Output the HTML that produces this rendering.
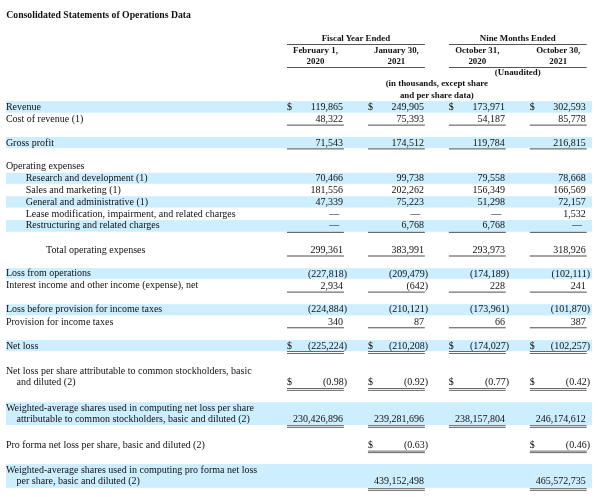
<!DOCTYPE html>
<html><head><meta charset="utf-8"><title>Consolidated Statements of Operations Data</title>
<style>
html,body{margin:0;padding:0;background:#fff}
#p{position:relative;width:600px;height:497px;overflow:hidden;background:#fff;font-family:"Liberation Serif","Times New Roman",serif;color:#111}
#p svg{position:absolute;left:0;top:0}
.t{position:absolute;white-space:nowrap;line-height:1em}
</style></head><body><div id="p">
<svg width="600" height="497" viewBox="0 0 600 497">
<rect x="287.00" y="44.10" width="137.83" height="0.8" fill="#2a2a2a"/>
<rect x="448.86" y="44.10" width="137.83" height="0.8" fill="#2a2a2a"/>
<rect x="287.00" y="67.20" width="137.83" height="0.8" fill="#2a2a2a"/>
<rect x="448.86" y="67.20" width="137.83" height="0.8" fill="#2a2a2a"/>
<rect x="6" y="101.10" width="586" height="11.60" fill="#cceeff"/>
<rect x="287.00" y="124.65" width="56.90" height="0.9" fill="#3a3a3a"/>
<rect x="367.93" y="124.65" width="56.90" height="0.9" fill="#3a3a3a"/>
<rect x="448.86" y="124.65" width="56.90" height="0.9" fill="#3a3a3a"/>
<rect x="529.79" y="124.65" width="56.90" height="0.9" fill="#3a3a3a"/>
<rect x="6" y="137.00" width="586" height="11.10" fill="#cceeff"/>
<rect x="287.00" y="148.45" width="56.90" height="0.9" fill="#3a3a3a"/>
<rect x="367.93" y="148.45" width="56.90" height="0.9" fill="#3a3a3a"/>
<rect x="448.86" y="148.45" width="56.90" height="0.9" fill="#3a3a3a"/>
<rect x="529.79" y="148.45" width="56.90" height="0.9" fill="#3a3a3a"/>
<rect x="6" y="172.80" width="586" height="11.00" fill="#cceeff"/>
<rect x="6" y="196.30" width="586" height="11.30" fill="#cceeff"/>
<rect x="6" y="220.10" width="586" height="11.60" fill="#cceeff"/>
<rect x="287.00" y="231.85" width="56.90" height="0.9" fill="#3a3a3a"/>
<rect x="367.93" y="231.85" width="56.90" height="0.9" fill="#3a3a3a"/>
<rect x="448.86" y="231.85" width="56.90" height="0.9" fill="#3a3a3a"/>
<rect x="529.79" y="231.85" width="56.90" height="0.9" fill="#3a3a3a"/>
<rect x="287.00" y="255.55" width="56.90" height="0.9" fill="#3a3a3a"/>
<rect x="367.93" y="255.55" width="56.90" height="0.9" fill="#3a3a3a"/>
<rect x="448.86" y="255.55" width="56.90" height="0.9" fill="#3a3a3a"/>
<rect x="529.79" y="255.55" width="56.90" height="0.9" fill="#3a3a3a"/>
<rect x="6" y="268.20" width="586" height="10.60" fill="#cceeff"/>
<rect x="287.00" y="291.65" width="56.90" height="0.9" fill="#3a3a3a"/>
<rect x="367.93" y="291.65" width="56.90" height="0.9" fill="#3a3a3a"/>
<rect x="448.86" y="291.65" width="56.90" height="0.9" fill="#3a3a3a"/>
<rect x="529.79" y="291.65" width="56.90" height="0.9" fill="#3a3a3a"/>
<rect x="6" y="304.20" width="586" height="11.20" fill="#cceeff"/>
<rect x="287.00" y="327.35" width="56.90" height="0.9" fill="#3a3a3a"/>
<rect x="367.93" y="327.35" width="56.90" height="0.9" fill="#3a3a3a"/>
<rect x="448.86" y="327.35" width="56.90" height="0.9" fill="#3a3a3a"/>
<rect x="529.79" y="327.35" width="56.90" height="0.9" fill="#3a3a3a"/>
<rect x="6" y="340.10" width="586" height="11.10" fill="#cceeff"/>
<rect x="287.00" y="351.10" width="56.90" height="0.8" fill="#444"/>
<rect x="287.00" y="353.00" width="56.90" height="0.8" fill="#444"/>
<rect x="367.93" y="351.10" width="56.90" height="0.8" fill="#444"/>
<rect x="367.93" y="353.00" width="56.90" height="0.8" fill="#444"/>
<rect x="448.86" y="351.10" width="56.90" height="0.8" fill="#444"/>
<rect x="448.86" y="353.00" width="56.90" height="0.8" fill="#444"/>
<rect x="529.79" y="351.10" width="56.90" height="0.8" fill="#444"/>
<rect x="529.79" y="353.00" width="56.90" height="0.8" fill="#444"/>
<rect x="287.00" y="388.00" width="56.90" height="0.8" fill="#444"/>
<rect x="287.00" y="389.90" width="56.90" height="0.8" fill="#444"/>
<rect x="367.93" y="388.00" width="56.90" height="0.8" fill="#444"/>
<rect x="367.93" y="389.90" width="56.90" height="0.8" fill="#444"/>
<rect x="448.86" y="388.00" width="56.90" height="0.8" fill="#444"/>
<rect x="448.86" y="389.90" width="56.90" height="0.8" fill="#444"/>
<rect x="529.79" y="388.00" width="56.90" height="0.8" fill="#444"/>
<rect x="529.79" y="389.90" width="56.90" height="0.8" fill="#444"/>
<rect x="6" y="402.20" width="586" height="22.80" fill="#cceeff"/>
<rect x="287.00" y="425.30" width="56.90" height="0.8" fill="#444"/>
<rect x="287.00" y="426.90" width="56.90" height="0.8" fill="#444"/>
<rect x="367.93" y="425.30" width="56.90" height="0.8" fill="#444"/>
<rect x="367.93" y="426.90" width="56.90" height="0.8" fill="#444"/>
<rect x="448.86" y="425.30" width="56.90" height="0.8" fill="#444"/>
<rect x="448.86" y="426.90" width="56.90" height="0.8" fill="#444"/>
<rect x="529.79" y="425.30" width="56.90" height="0.8" fill="#444"/>
<rect x="529.79" y="426.90" width="56.90" height="0.8" fill="#444"/>
<rect x="367.93" y="450.70" width="56.90" height="0.8" fill="#444"/>
<rect x="367.93" y="452.30" width="56.90" height="0.8" fill="#444"/>
<rect x="529.79" y="450.70" width="56.90" height="0.8" fill="#444"/>
<rect x="529.79" y="452.30" width="56.90" height="0.8" fill="#444"/>
<rect x="6" y="464.10" width="586" height="23.70" fill="#cceeff"/>
<rect x="367.93" y="488.30" width="56.90" height="0.8" fill="#444"/>
<rect x="367.93" y="489.90" width="56.90" height="0.8" fill="#444"/>
<rect x="529.79" y="488.30" width="56.90" height="0.8" fill="#444"/>
<rect x="529.79" y="489.90" width="56.90" height="0.8" fill="#444"/>
</svg>
<div class="t" style="top:10px;font-size:9.73px;font-weight:bold;left:6.30px;">Consolidated Statements of Operations Data</div>
<div class="t" style="top:34px;font-size:8.9px;font-weight:bold;left:205.91px;width:300px;text-align:center;">Fiscal Year Ended</div>
<div class="t" style="top:34px;font-size:8.9px;font-weight:bold;left:367.78px;width:300px;text-align:center;">Nine Months Ended</div>
<div class="t" style="top:46px;font-size:8.9px;font-weight:bold;left:165.45px;width:300px;text-align:center;">February 1,</div>
<div class="t" style="top:57px;font-size:8.9px;font-weight:bold;left:165.45px;width:300px;text-align:center;">2020</div>
<div class="t" style="top:46px;font-size:8.9px;font-weight:bold;left:246.38px;width:300px;text-align:center;">January 30,</div>
<div class="t" style="top:57px;font-size:8.9px;font-weight:bold;left:246.38px;width:300px;text-align:center;">2021</div>
<div class="t" style="top:46px;font-size:8.9px;font-weight:bold;left:327.31px;width:300px;text-align:center;">October 31,</div>
<div class="t" style="top:57px;font-size:8.9px;font-weight:bold;left:327.31px;width:300px;text-align:center;">2020</div>
<div class="t" style="top:46px;font-size:8.9px;font-weight:bold;left:408.24px;width:300px;text-align:center;">October 30,</div>
<div class="t" style="top:57px;font-size:8.9px;font-weight:bold;left:408.24px;width:300px;text-align:center;">2021</div>
<div class="t" style="top:68px;font-size:8.9px;font-weight:bold;left:367.78px;width:300px;text-align:center;">(Unaudited)</div>
<div class="t" style="top:79px;font-size:8.9px;font-weight:bold;left:286.85px;width:300px;text-align:center;">(in thousands, except share</div>
<div class="t" style="top:91px;font-size:8.9px;font-weight:bold;left:286.85px;width:300px;text-align:center;">and per share data)</div>
<div class="t" style="top:102px;font-size:10.0px;left:5.90px;">Revenue</div>
<div class="t" style="top:102px;font-size:10.0px;right:257.00px;">119,865</div>
<div class="t" style="top:102px;font-size:10.0px;left:287.00px;">$</div>
<div class="t" style="top:102px;font-size:10.0px;right:176.07px;">249,905</div>
<div class="t" style="top:102px;font-size:10.0px;left:367.93px;">$</div>
<div class="t" style="top:102px;font-size:10.0px;right:95.14px;">173,971</div>
<div class="t" style="top:102px;font-size:10.0px;left:448.86px;">$</div>
<div class="t" style="top:102px;font-size:10.0px;right:14.21px;">302,593</div>
<div class="t" style="top:102px;font-size:10.0px;left:529.79px;">$</div>
<div class="t" style="top:114px;font-size:10.0px;left:5.90px;">Cost of revenue (1)</div>
<div class="t" style="top:114px;font-size:10.0px;right:257.00px;">48,322</div>
<div class="t" style="top:114px;font-size:10.0px;right:176.07px;">75,393</div>
<div class="t" style="top:114px;font-size:10.0px;right:95.14px;">54,187</div>
<div class="t" style="top:114px;font-size:10.0px;right:14.21px;">85,778</div>
<div class="t" style="top:138px;font-size:10.0px;left:5.90px;">Gross profit</div>
<div class="t" style="top:138px;font-size:10.0px;right:257.00px;">71,543</div>
<div class="t" style="top:138px;font-size:10.0px;right:176.07px;">174,512</div>
<div class="t" style="top:138px;font-size:10.0px;right:95.14px;">119,784</div>
<div class="t" style="top:138px;font-size:10.0px;right:14.21px;">216,815</div>
<div class="t" style="top:161px;font-size:10.0px;left:5.90px;">Operating expenses</div>
<div class="t" style="top:173px;font-size:10.0px;left:25.70px;">Research and development (1)</div>
<div class="t" style="top:173px;font-size:10.0px;right:257.00px;">70,466</div>
<div class="t" style="top:173px;font-size:10.0px;right:176.07px;">99,738</div>
<div class="t" style="top:173px;font-size:10.0px;right:95.14px;">79,558</div>
<div class="t" style="top:173px;font-size:10.0px;right:14.21px;">78,668</div>
<div class="t" style="top:185px;font-size:10.0px;left:25.70px;">Sales and marketing (1)</div>
<div class="t" style="top:185px;font-size:10.0px;right:257.00px;">181,556</div>
<div class="t" style="top:185px;font-size:10.0px;right:176.07px;">202,262</div>
<div class="t" style="top:185px;font-size:10.0px;right:95.14px;">156,349</div>
<div class="t" style="top:185px;font-size:10.0px;right:14.21px;">166,569</div>
<div class="t" style="top:197px;font-size:10.0px;left:25.70px;">General and administrative (1)</div>
<div class="t" style="top:197px;font-size:10.0px;right:257.00px;">47,339</div>
<div class="t" style="top:197px;font-size:10.0px;right:176.07px;">75,223</div>
<div class="t" style="top:197px;font-size:10.0px;right:95.14px;">51,298</div>
<div class="t" style="top:197px;font-size:10.0px;right:14.21px;">72,157</div>
<div class="t" style="top:209px;font-size:10.0px;left:25.70px;">Lease modification, impairment, and related charges</div>
<div class="t" style="top:209px;font-size:10.0px;right:260.70px;">—</div>
<div class="t" style="top:209px;font-size:10.0px;right:179.77px;">—</div>
<div class="t" style="top:209px;font-size:10.0px;right:98.84px;">—</div>
<div class="t" style="top:209px;font-size:10.0px;right:14.21px;">1,532</div>
<div class="t" style="top:220px;font-size:10.0px;left:25.70px;">Restructuring and related charges</div>
<div class="t" style="top:220px;font-size:10.0px;right:260.70px;">—</div>
<div class="t" style="top:220px;font-size:10.0px;right:176.07px;">6,768</div>
<div class="t" style="top:220px;font-size:10.0px;right:95.14px;">6,768</div>
<div class="t" style="top:220px;font-size:10.0px;right:17.91px;">—</div>
<div class="t" style="top:245px;font-size:10.0px;left:46.10px;">Total operating expenses</div>
<div class="t" style="top:245px;font-size:10.0px;right:257.00px;">299,361</div>
<div class="t" style="top:245px;font-size:10.0px;right:176.07px;">383,991</div>
<div class="t" style="top:245px;font-size:10.0px;right:95.14px;">293,973</div>
<div class="t" style="top:245px;font-size:10.0px;right:14.21px;">318,926</div>
<div class="t" style="top:268px;font-size:10.0px;left:5.90px;">Loss from operations</div>
<div class="t" style="top:269px;font-size:10.0px;right:252.80px;">(227,818)</div>
<div class="t" style="top:269px;font-size:10.0px;right:171.87px;">(209,479)</div>
<div class="t" style="top:269px;font-size:10.0px;right:90.94px;">(174,189)</div>
<div class="t" style="top:269px;font-size:10.0px;right:10.01px;">(102,111)</div>
<div class="t" style="top:280px;font-size:10.0px;left:5.90px;">Interest income and other income (expense), net</div>
<div class="t" style="top:281px;font-size:10.0px;right:257.00px;">2,934</div>
<div class="t" style="top:281px;font-size:10.0px;right:171.87px;">(642)</div>
<div class="t" style="top:281px;font-size:10.0px;right:95.14px;">228</div>
<div class="t" style="top:281px;font-size:10.0px;right:14.21px;">241</div>
<div class="t" style="top:304px;font-size:10.0px;left:5.90px;">Loss before provision for income taxes</div>
<div class="t" style="top:304px;font-size:10.0px;right:252.80px;">(224,884)</div>
<div class="t" style="top:304px;font-size:10.0px;right:171.87px;">(210,121)</div>
<div class="t" style="top:304px;font-size:10.0px;right:90.94px;">(173,961)</div>
<div class="t" style="top:304px;font-size:10.0px;right:10.01px;">(101,870)</div>
<div class="t" style="top:317px;font-size:10.0px;left:5.90px;">Provision for income taxes</div>
<div class="t" style="top:317px;font-size:10.0px;right:257.00px;">340</div>
<div class="t" style="top:317px;font-size:10.0px;right:176.07px;">87</div>
<div class="t" style="top:317px;font-size:10.0px;right:95.14px;">66</div>
<div class="t" style="top:317px;font-size:10.0px;right:14.21px;">387</div>
<div class="t" style="top:341px;font-size:10.0px;left:5.90px;">Net loss</div>
<div class="t" style="top:341px;font-size:10.0px;right:252.80px;">(225,224)</div>
<div class="t" style="top:341px;font-size:10.0px;left:287.00px;">$</div>
<div class="t" style="top:341px;font-size:10.0px;right:171.87px;">(210,208)</div>
<div class="t" style="top:341px;font-size:10.0px;left:367.93px;">$</div>
<div class="t" style="top:341px;font-size:10.0px;right:90.94px;">(174,027)</div>
<div class="t" style="top:341px;font-size:10.0px;left:448.86px;">$</div>
<div class="t" style="top:341px;font-size:10.0px;right:10.01px;">(102,257)</div>
<div class="t" style="top:341px;font-size:10.0px;left:529.79px;">$</div>
<div class="t" style="top:366px;font-size:10.0px;left:5.90px;">Net loss per share attributable to common stockholders, basic</div>
<div class="t" style="top:377px;font-size:10.0px;left:16.60px;">and diluted (2)</div>
<div class="t" style="top:377px;font-size:10.0px;right:252.80px;">(0.98)</div>
<div class="t" style="top:377px;font-size:10.0px;left:287.00px;">$</div>
<div class="t" style="top:377px;font-size:10.0px;right:171.87px;">(0.92)</div>
<div class="t" style="top:377px;font-size:10.0px;left:367.93px;">$</div>
<div class="t" style="top:377px;font-size:10.0px;right:90.94px;">(0.77)</div>
<div class="t" style="top:377px;font-size:10.0px;left:448.86px;">$</div>
<div class="t" style="top:377px;font-size:10.0px;right:10.01px;">(0.42)</div>
<div class="t" style="top:377px;font-size:10.0px;left:529.79px;">$</div>
<div class="t" style="top:403px;font-size:10.0px;left:5.90px;">Weighted-average shares used in computing net loss per share</div>
<div class="t" style="top:414px;font-size:10.0px;left:16.60px;">attributable to common stockholders, basic and diluted (2)</div>
<div class="t" style="top:414px;font-size:10.0px;right:257.00px;">230,426,896</div>
<div class="t" style="top:414px;font-size:10.0px;right:176.07px;">239,281,696</div>
<div class="t" style="top:414px;font-size:10.0px;right:95.14px;">238,157,804</div>
<div class="t" style="top:414px;font-size:10.0px;right:14.21px;">246,174,612</div>
<div class="t" style="top:440px;font-size:10.0px;left:5.90px;">Pro forma net loss per share, basic and diluted (2)</div>
<div class="t" style="top:440px;font-size:10.0px;right:171.87px;">(0.63)</div>
<div class="t" style="top:440px;font-size:10.0px;left:367.93px;">$</div>
<div class="t" style="top:440px;font-size:10.0px;right:10.01px;">(0.46)</div>
<div class="t" style="top:440px;font-size:10.0px;left:529.79px;">$</div>
<div class="t" style="top:465px;font-size:10.0px;left:5.90px;">Weighted-average shares used in computing pro forma net loss</div>
<div class="t" style="top:476px;font-size:10.0px;left:16.60px;">per share, basic and diluted (2)</div>
<div class="t" style="top:476px;font-size:10.0px;right:176.07px;">439,152,498</div>
<div class="t" style="top:476px;font-size:10.0px;right:14.21px;">465,572,735</div>
</div></body></html>
